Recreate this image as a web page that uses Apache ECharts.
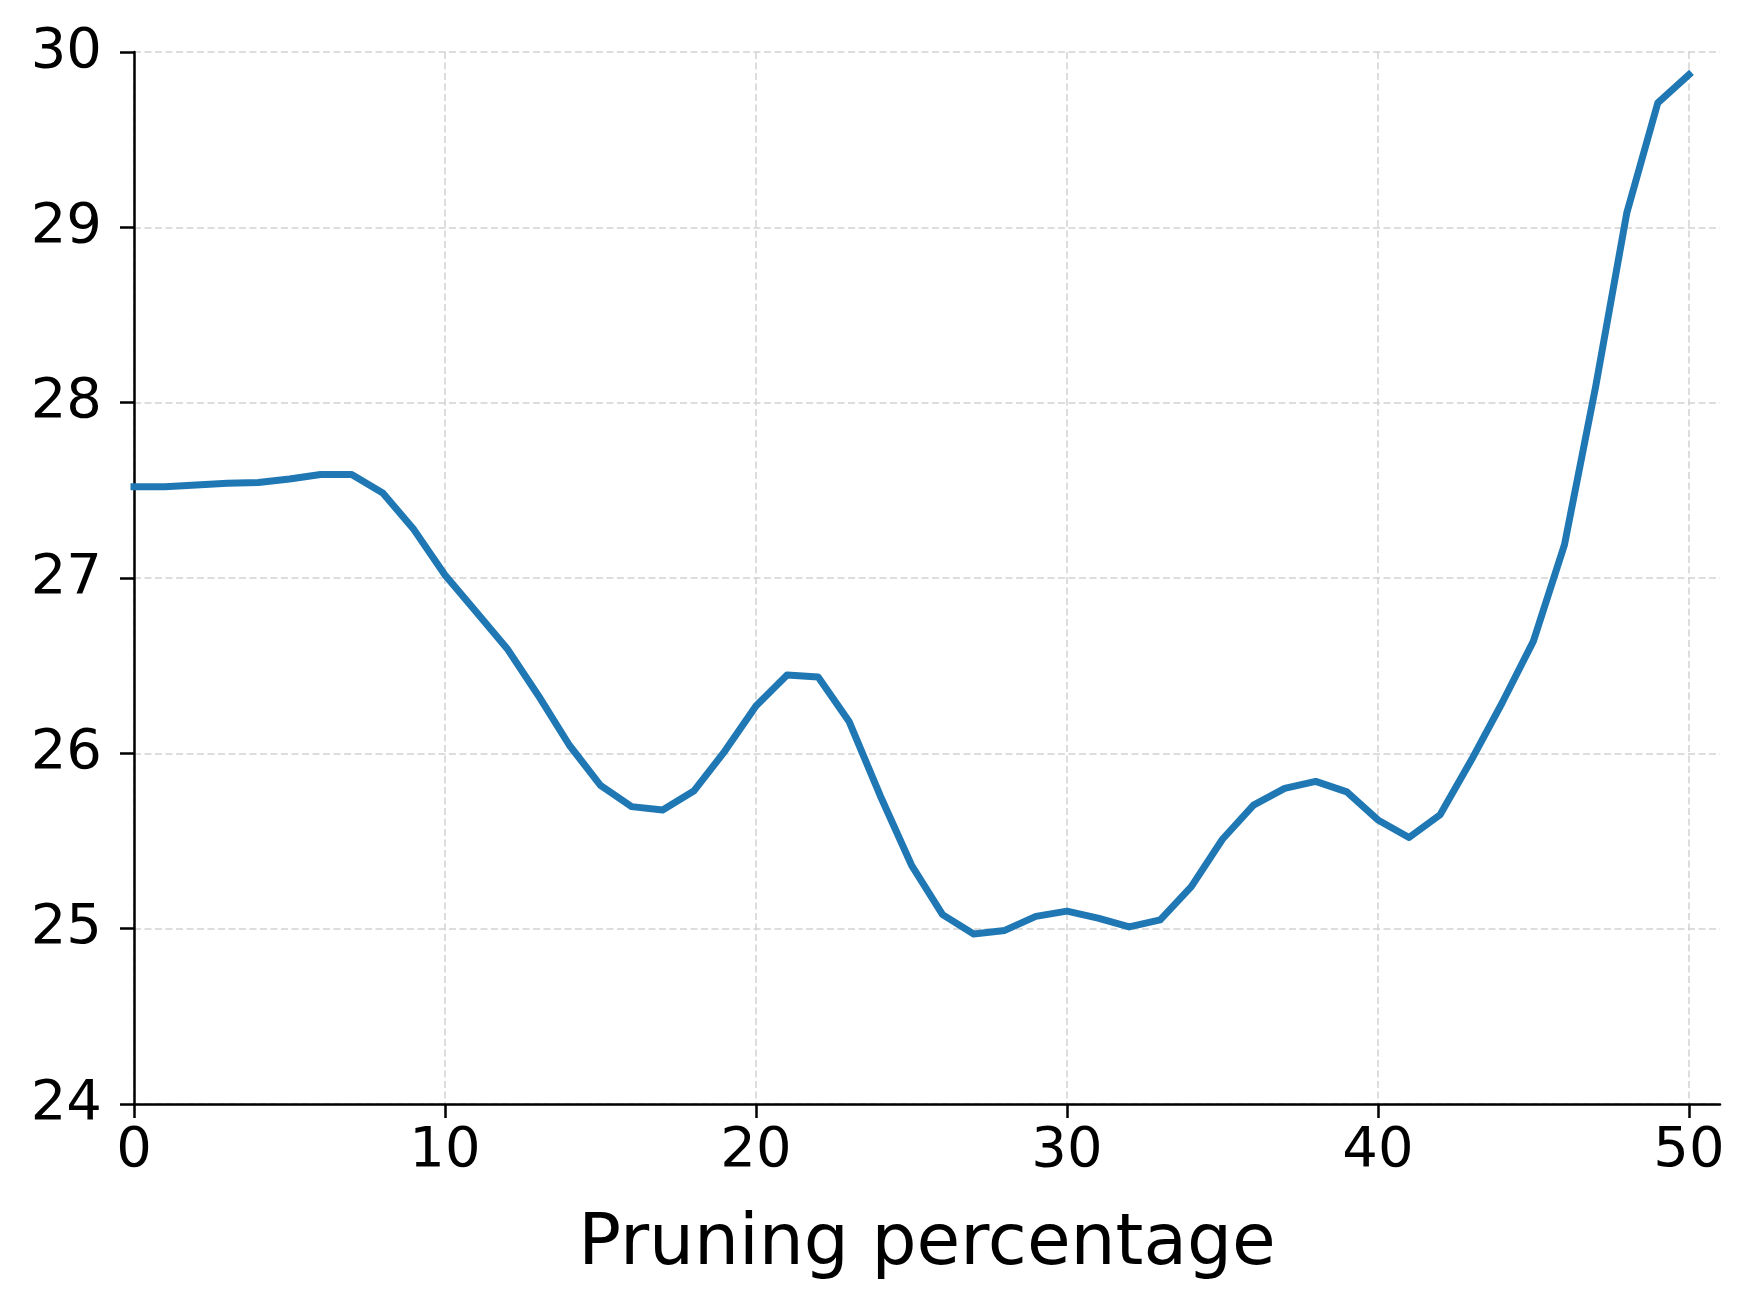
<!DOCTYPE html>
<html>
<head>
<meta charset="utf-8">
<script src="https://cdn.jsdelivr.net/npm/echarts@6/dist/echarts.min.js"></script>
<style>
html,body{margin:0;padding:0;background:#fff;}
#chart{width:1757px;height:1307px;}
</style>
</head>
<body>
<div id="chart"></div>
<script>
const pruningPct = [0,1,2,3,4,5,6,7,8,9,10,11,12,13,14,15,16,17,18,19,20,21,22,23,24,25,26,27,28,29,30,31,32,33,34,35,36,37,38,39,40,41,42,43,44,45,46,47,48,49,50];
const metricValues = [27.52,27.52,27.53,27.54,27.545,27.565,27.59,27.59,27.485,27.276,27.017,26.808,26.597,26.33,26.046,25.817,25.696,25.677,25.785,26.013,26.27,26.447,26.435,26.18,25.757,25.363,25.08,24.97,24.99,25.07,25.10,25.06,25.01,25.05,25.24,25.51,25.705,25.80,25.84,25.78,25.62,25.52,25.65,25.96,26.29,26.64,27.19,28.09,29.08,29.71,29.87];
const xTickValues = [0,10,20,30,40,50];
const yTickValues = [24,25,26,27,28,29,30];
const xAxisTitle = 'Pruning percentage';

const seriesData = pruningPct.map((x, i) => [x, metricValues[i]]);
const chart = echarts.init(document.getElementById('chart'), null, {renderer: 'canvas'});
const FONT = 'DejaVu Sans';
chart.setOption({
  animation: false,
  backgroundColor: '#ffffff',
  grid: {left: 134, right: 37, top: 52, bottom: 203, containLabel: false},
  xAxis: {
    type: 'value', min: 0, max: 51, interval: 10,
    name: xAxisTitle, nameLocation: 'middle', nameGap: 106,
    nameTextStyle: {fontFamily: FONT, fontSize: 71, color: '#000'},
    axisLine: {show: true, onZero: false, lineStyle: {color: '#000', width: 2.5}},
    axisTick: {show: true, inside: false, length: 14, lineStyle: {color: '#000', width: 2.5}, customValues: xTickValues},
    axisLabel: {fontFamily: FONT, fontSize: 56, color: '#000', margin: 19, customValues: xTickValues},
    splitLine: {show: true, lineStyle: {color: '#d2d2d2', width: 1.5, type: [7, 3.5]}}
  },
  yAxis: {
    type: 'value', min: 24, max: 30, interval: 1,
    axisLine: {show: true, onZero: false, lineStyle: {color: '#000', width: 2.5}},
    axisTick: {show: true, inside: false, length: 14, lineStyle: {color: '#000', width: 2.5}, customValues: yTickValues},
    axisLabel: {fontFamily: FONT, fontSize: 56, color: '#000', margin: 32, customValues: yTickValues},
    splitLine: {show: true, lineStyle: {color: '#d2d2d2', width: 1.5, type: [7, 3.5]}}
  },
  series: [{
    type: 'line',
    data: seriesData,
    showSymbol: false,
    smooth: false,
    lineStyle: {color: '#1f77b4', width: 7, cap: 'square', join: 'round'},
    itemStyle: {color: '#1f77b4'}
  }]
});
</script>
</body>
</html>
